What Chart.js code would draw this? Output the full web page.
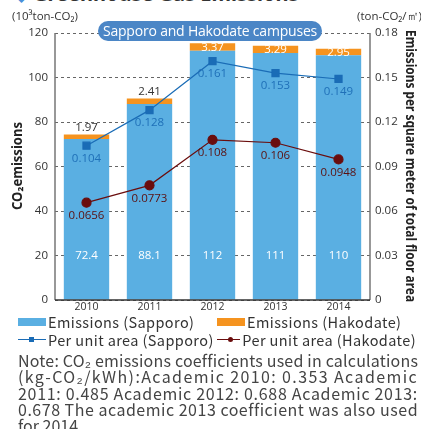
<!DOCTYPE html>
<html>
<head>
<meta charset="utf-8">
<script src="https://cdn.jsdelivr.net/npm/chart.js@4.4.1/dist/chart.umd.min.js"></script>
<style>
  body { margin: 0; background: #fff; width: 421px; height: 429px; overflow: hidden; position: relative; font-family: "Noto Sans", sans-serif; }
  #title { position: absolute; left: 16px; top: -20px; font-size: 20px; font-weight: bold; color: #333; white-space: nowrap; }
  #title span { color: #4a90d9; font-size: 14px; margin-right: 6px; }
  #wrap { position: absolute; left: 0; top: 0; width: 421px; height: 318px; }
  .unit { position: absolute; top: 8px; font-size: 11.5px; color: #333; font-family: "Open Sans", sans-serif; white-space: nowrap; }
  #badge { position: absolute; left: 98px; top: 21px; width: 224px; height: 20px; border-radius: 10px; background: #4b86c6; color: #fff; font-size: 14px; line-height: 20px; text-align: center; font-family: "Open Sans", sans-serif; white-space: nowrap; letter-spacing: -0.2px; }
  #legend { position: absolute; left: 18px; top: 313px; font-family: "Noto Sans CJK JP", sans-serif; font-size: 14.5px; color: #333; letter-spacing: 0.4px; }
  .row { display: flex; height: 17.5px; align-items: center; }
  .item { display: flex; align-items: center; width: 199px; white-space: nowrap; }
  .box { width: 28px; height: 8px; margin-right: 2px; }
  .ln { width: 28px; height: 10px; margin-right: 2px; position: relative; }
  .ln::before { content: ""; position: absolute; left: 0; right: 0; top: 4.5px; height: 1.2px; background: var(--c); }
  .ln::after { content: ""; position: absolute; left: 11px; top: 2.5px; width: 5px; height: 5px; background: var(--c); border-radius: var(--r); }
  #note { position: absolute; left: 18px; top: 352px; font-family: "Noto Sans CJK JP", sans-serif; font-size: 16px; line-height: 16.3px; color: #444; }
  #note div { white-space: nowrap; }
</style>
</head>
<body>
<div id="title"><span>◆</span>Greenhouse Gas Emissions</div>
<div id="wrap"><canvas id="chart"></canvas></div>
<div class="unit" style="left:12px">(10³ton-CO₂)</div>
<div class="unit" style="left:357px">(ton-CO₂/㎡)</div>
<div id="badge">Sapporo and Hakodate campuses</div>
<div id="legend">
  <div class="row">
    <div class="item"><div class="box" style="background:#5aafe2"></div>Emissions (Sapporo)</div>
    <div class="item"><div class="box" style="background:#f5931f"></div>Emissions (Hakodate)</div>
  </div>
  <div class="row">
    <div class="item"><div class="ln" style="--c:#1a6cb6;--r:0"></div>Per unit area (Sapporo)</div>
    <div class="item"><div class="ln" style="--c:#6a0d0d;--r:50%"></div>Per unit area (Hakodate)</div>
  </div>
</div>
<div id="note">
  <div class="fit">Note: CO₂ emissions coefficients used in calculations</div>
  <div class="fit">(kg-CO₂/kWh):Academic 2010: 0.353 Academic</div>
  <div class="fit">2011: 0.485 Academic 2012: 0.688 Academic 2013:</div>
  <div class="fit">0.678 The academic 2013 coefficient was also used</div>
  <div>for 2014.</div>
</div>
<script>
const years = ['2010', '2011', '2012', '2013', '2014'];
const sapporoEmissions = [72.4, 88.1, 112, 111, 110];
const hakodateEmissions = [1.97, 2.41, 3.37, 3.29, 2.95];
const sapporoPerArea = [0.104, 0.128, 0.161, 0.153, 0.149];
const hakodatePerArea = [0.0656, 0.0773, 0.108, 0.106, 0.0948];
const leftTicks = [0, 20, 40, 60, 80, 100, 120];
const rightTicks = [0, 0.03, 0.06, 0.09, 0.12, 0.15, 0.18];

// stretch the note lines to the same width as in the printed page
document.querySelectorAll('#note .fit').forEach(el => {
    el.style.display = 'inline-block';
    const w = el.getBoundingClientRect().width;
    const n = el.textContent.length;
    el.style.letterSpacing = ((400 - w) / n) + 'px';
    el.style.display = 'block';
});

const labelPlugin = {
    id: 'labels',
    afterDatasetsDraw(chart) {
        const ctx = chart.ctx;
        const area = chart.chartArea;
        const yScale = chart.scales.y;
        ctx.save();
        ctx.textAlign = 'center';
        ctx.textBaseline = 'middle';
        ctx.font = '11.5px "Open Sans", sans-serif';

        chart.getDatasetMeta(0).data.forEach((bar, i) => {
            ctx.fillStyle = '#fff';
            ctx.fillText(String(sapporoEmissions[i]), bar.x, yScale.getPixelForValue(20));
        });
        chart.getDatasetMeta(1).data.forEach((bar, i) => {
            const v = hakodateEmissions[i].toFixed(2);
            if (bar.y - area.top < 20) {
                ctx.fillStyle = '#fff';
                ctx.fillText(v, bar.x, bar.y + 4);
            } else {
                ctx.fillStyle = '#333';
                ctx.fillText(v, bar.x, bar.y - 7);
            }
        });
        [[2, sapporoPerArea, '#1f70b8'], [3, hakodatePerArea, '#5a1010']].forEach(([idx, vals, col]) => {
            chart.getDatasetMeta(idx).data.forEach((pt, i) => {
                ctx.fillStyle = col;
                ctx.fillText(String(vals[i]), pt.x, pt.y + 13);
            });
        });

        // solid side axes
        ctx.setLineDash([]);
        ctx.strokeStyle = '#777';
        ctx.lineWidth = 1.5;
        ctx.beginPath();
        ctx.moveTo(area.left, area.top);
        ctx.lineTo(area.left, area.bottom);
        ctx.moveTo(area.right, area.top);
        ctx.lineTo(area.right, area.bottom);
        ctx.stroke();
        ctx.strokeStyle = '#333';
        ctx.beginPath();
        ctx.moveTo(area.left, area.bottom);
        ctx.lineTo(area.right, area.bottom);
        ctx.stroke();

        // axis titles
        ctx.fillStyle = '#222';
        ctx.font = 'bold 14px "Noto Sans", sans-serif';
        ctx.save();
        ctx.translate(18, 166);
        ctx.rotate(-Math.PI / 2);
        ctx.fillText('CO₂emissions', 0, 0, 88);
        ctx.restore();
        ctx.save();
        ctx.translate(410, 166);
        ctx.rotate(Math.PI / 2);
        ctx.fillText('Emissions per square meter of total floor area', 0, 0, 272);
        ctx.restore();
        ctx.restore();
    }
};

new Chart(document.getElementById('chart'), {
    data: {
        labels: years,
        datasets: [
            { type: 'bar', label: 'Emissions (Sapporo)', data: sapporoEmissions, backgroundColor: '#5aafe2', yAxisID: 'y', stack: 's', order: 2, barPercentage: 0.72, categoryPercentage: 1 },
            { type: 'bar', label: 'Emissions (Hakodate)', data: hakodateEmissions, backgroundColor: '#f5931f', yAxisID: 'y', stack: 's', order: 2, barPercentage: 0.72, categoryPercentage: 1 },
            { type: 'line', label: 'Per unit area (Sapporo)', data: sapporoPerArea, borderColor: '#1a6cb6', backgroundColor: '#1a6cb6', borderWidth: 1.2, pointStyle: 'rect', pointRadius: 5, yAxisID: 'y1', order: 1 },
            { type: 'line', label: 'Per unit area (Hakodate)', data: hakodatePerArea, borderColor: '#6a0d0d', backgroundColor: '#6a0d0d', borderWidth: 1.2, pointStyle: 'circle', pointRadius: 4.5, yAxisID: 'y1', order: 0 }
        ]
    },
    options: {
        responsive: true,
        maintainAspectRatio: false,
        animation: false,
        layout: { padding: { top: 33, left: 0, right: 0, bottom: 0 } },
        plugins: { legend: { display: false }, tooltip: { enabled: false } },
        scales: {
            x: {
                stacked: true,
                grid: { display: false, drawTicks: false },
                border: { display: false },
                ticks: { color: '#333', font: { size: 10.5, family: '"Open Sans", sans-serif' }, padding: 1 },
                afterFit(s) { s.height = 18; }
            },
            y: {
                stacked: true,
                position: 'left',
                min: 0, max: 120,
                afterBuildTicks(s) { s.ticks = leftTicks.map(v => ({ value: v })); },
                grid: { color: '#666', drawTicks: false, lineWidth: 1 },
                border: { display: false, dash: [3, 3] },
                ticks: { color: '#333', font: { size: 11.5, family: '"Open Sans", sans-serif' }, padding: 7 },
                afterFit(s) { s.width = 55; }
            },
            y1: {
                position: 'right',
                min: 0, max: 0.18,
                afterBuildTicks(s) { s.ticks = rightTicks.map(v => ({ value: v })); },
                grid: { display: false, drawTicks: false },
                border: { display: false },
                ticks: { color: '#333', font: { size: 11.5, family: '"Open Sans", sans-serif' }, padding: 5,
                    callback: v => v === 0 ? '0' : v.toFixed(2) },
                afterFit(s) { s.width = 51; }
            }
        }
    },
    plugins: [labelPlugin]
});
</script>
</body>
</html>
